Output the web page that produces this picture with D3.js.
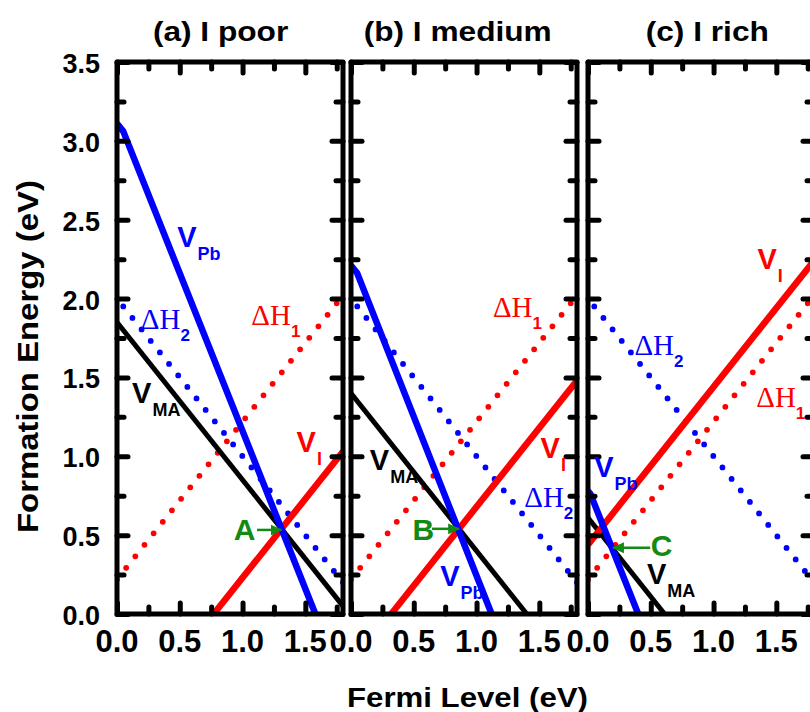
<!DOCTYPE html>
<html>
<head>
<meta charset="utf-8">
<script src="https://cdn.jsdelivr.net/npm/d3@7"></script>
<style>
body { margin: 0; background: #fff; }
svg { display: block; overflow: hidden; }
text { font-family: "Liberation Sans", Arial, sans-serif; font-weight: bold; }
</style>
</head>
<body>
<div id="chart"></div>
<script>
// Data (Fermi level in eV, formation energy in eV)
var panelNames = ["(a) I poor", "(b) I medium", "(c) I rich"];
var fermiDomain = [0, 1.8];
var energyDomain = [0, 3.5];
var xTickValues = [0, 0.5, 1.0, 1.5];
var yTickValues = [0, 0.5, 1.0, 1.5, 2.0, 2.5, 3.0, 3.5];

// V_Pb per panel (kink near 0.05)
var vPb = [
  [[0, 3.11], [0.05, 3.06], [1.58, 0]],
  [[0, 2.21], [0.05, 2.16], [1.12, 0]],
  [[0, 0.78], [0.02, 0.76], [0.40, 0]]
];
var vMA = [
  [[0, 1.85], [1.8, 0.05]],
  [[0, 1.40], [1.40, 0]],
  [[0, 0.61], [0.61, 0]]
];
var vI = [
  [[0.77, 0], [1.8, 1.03]],
  [[0.32, 0], [1.8, 1.48]],
  [[0, 0.44], [1.8, 2.24]]
];
// stability limits, same in every panel
var dH1 = [[0, 0.22], [1.8, 2.02]];
var dH2 = [[1.8, 0.2], [0, 2.0]];

// annotations: [E, F] of label start (baseline)
var labelPos = [
  {vPb: [0.48, 2.33], vMA: [0.12, 1.34], vI: [1.43, 1.03], dH1: [1.07, 1.83], dH2: [0.19, 1.81],
   mark: "A", markAt: [0.93, 0.47], arrow: [[1.115, 0.533], [1.31, 0.533]]},
  {vPb: [0.71, 0.18], vMA: [0.15, 0.91], vI: [1.51, 0.99], dH1: [1.13, 1.88], dH2: [1.38, 0.68],
   mark: "B", markAt: [0.49, 0.47], arrow: [[0.645, 0.54], [0.86, 0.54]]},
  {vPb: [0.05, 0.87], vMA: [0.47, 0.19], vI: [1.35, 2.19], dH1: [1.34, 1.31], dH2: [0.37, 1.64],
   mark: "C", markAt: [0.50, 0.37], arrow: [[0.495, 0.42], [0.20, 0.42]]}
];
var titleCenter = [0.825, 0.85, 0.95];

// Layout
var width = 810, height = 712;
var plotTop = 62, plotBottom = 614;
var panelLeft = [117, 351, 588];
var panelWidth = 226;
var blue = "#0000ff", red = "#ff0000", green = "#138a13";

var svg = d3.select("#chart").append("svg")
  .attr("width", width)
  .attr("height", height);

var defs = svg.append("defs");
defs.append("marker")
  .attr("id", "arrowHead")
  .attr("markerUnits", "userSpaceOnUse")
  .attr("markerWidth", 12).attr("markerHeight", 12)
  .attr("refX", 9).attr("refY", 5)
  .attr("orient", "auto")
  .attr("viewBox", "0 0 10 10")
  .append("path")
  .attr("d", "M0,0.5 L10,5 L0,9.5 Z")
  .attr("fill", green);

var y = d3.scaleLinear().domain(energyDomain).range([plotBottom, plotTop]);

panelNames.forEach(function(name, p) {
  var left = panelLeft[p];
  var x = d3.scaleLinear().domain(fermiDomain).range([left, left + panelWidth]);
  var g = svg.append("g").attr("class", "panel");

  defs.append("clipPath").attr("id", "clip" + p)
    .append("rect")
    .attr("x", left).attr("y", plotTop)
    .attr("width", panelWidth).attr("height", plotBottom - plotTop);

  var line = d3.line().x(function(d) { return x(d[0]); }).y(function(d) { return y(d[1]); });
  var plot = g.append("g").attr("clip-path", "url(#clip" + p + ")");

  // dotted limits
  [[dH1, red], [dH2, blue]].forEach(function(s) {
    plot.append("path")
      .attr("d", line(s[0]))
      .attr("fill", "none")
      .attr("stroke", s[1])
      .attr("stroke-width", 5.8)
      .attr("stroke-linecap", "round")
      .attr("stroke-dasharray", "0,14.7");
  });
  plot.append("path").attr("d", line(vMA[p])).attr("fill", "none")
    .attr("stroke", "#000").attr("stroke-width", 5);
  plot.append("path").attr("d", line(vI[p])).attr("fill", "none")
    .attr("stroke", red).attr("stroke-width", 6.5);
  plot.append("path").attr("d", line(vPb[p])).attr("fill", "none")
    .attr("stroke", blue).attr("stroke-width", 6.5).attr("stroke-linejoin", "round");

  // axes: inward ticks on all four sides
  var minorX = d3.range(0, 1.8, 0.25).filter(function(v) { return v % 0.5 !== 0; });
  var minorY = d3.range(0.25, 3.5, 0.5);
  function styleAxis(sel) {
    sel.select(".domain").remove();
    sel.selectAll(".tick line").attr("stroke", "#000").attr("stroke-width", 5).attr("stroke-linecap", "round");
  }
  var majorXTicks = d3.range(0, 1.8, 0.5);
  g.append("g").attr("transform", "translate(0," + plotBottom + ")")
    .call(d3.axisBottom(x).tickValues(majorXTicks).tickSize(-11).tickFormat(""))
    .call(styleAxis);
  g.append("g").attr("transform", "translate(0," + plotBottom + ")")
    .call(d3.axisBottom(x).tickValues(minorX).tickSize(-7).tickFormat(""))
    .call(styleAxis);
  g.append("g").attr("transform", "translate(0," + plotTop + ")")
    .call(d3.axisTop(x).tickValues(majorXTicks).tickSize(-11).tickFormat(""))
    .call(styleAxis);
  g.append("g").attr("transform", "translate(0," + plotTop + ")")
    .call(d3.axisTop(x).tickValues(minorX).tickSize(-7).tickFormat(""))
    .call(styleAxis);
  g.append("g").attr("transform", "translate(" + left + ",0)")
    .call(d3.axisLeft(y).tickValues(yTickValues).tickSize(-11).tickFormat(""))
    .call(styleAxis);
  g.append("g").attr("transform", "translate(" + left + ",0)")
    .call(d3.axisLeft(y).tickValues(minorY).tickSize(-7).tickFormat(""))
    .call(styleAxis);
  g.append("g").attr("transform", "translate(" + (left + panelWidth) + ",0)")
    .call(d3.axisRight(y).tickValues(yTickValues).tickSize(-11).tickFormat(""))
    .call(styleAxis);
  g.append("g").attr("transform", "translate(" + (left + panelWidth) + ",0)")
    .call(d3.axisRight(y).tickValues(minorY).tickSize(-7).tickFormat(""))
    .call(styleAxis);

  // frame
  g.append("rect")
    .attr("x", left).attr("y", plotTop)
    .attr("width", panelWidth).attr("height", plotBottom - plotTop)
    .attr("fill", "none").attr("stroke", "#000").attr("stroke-width", 5)
    .attr("stroke-linejoin", "round");

  // x tick labels
  g.selectAll(".xlab").data(xTickValues).enter().append("text")
    .attr("x", function(d) { return x(d); })
    .attr("y", 652)
    .attr("text-anchor", "middle")
    .style("font-size", "31px")
    .text(function(d) { return d3.format(".1f")(d); });

  if (p === 0) {
    g.selectAll(".ylab").data(yTickValues).enter().append("text")
      .attr("x", left - 17)
      .attr("y", function(d) { return y(d) + 11; })
      .attr("text-anchor", "end")
      .style("font-size", "27px")
      .text(function(d) { return d3.format(".1f")(d); });
  }

  // panel title
  var title = g.append("text")
    .attr("x", x(titleCenter[p]))
    .attr("y", 41)
    .attr("text-anchor", "middle")
    .style("font-size", "28px")
    .text(name);
  title.attr("textLength", title.node().getComputedTextLength() * 1.13)
    .attr("lengthAdjust", "spacingAndGlyphs");

  // defect labels
  var lp = labelPos[p];
  function vLabel(pos, sub, color) {
    var t = g.append("text").attr("x", x(pos[0])).attr("y", y(pos[1])).attr("fill", color);
    t.append("tspan").style("font-size", "29px").text("V");
    t.append("tspan").attr("dy", 13).attr("dx", 1).style("font-size", "18px").text(sub);
  }
  function hLabel(pos, sub, color) {
    var t = g.append("text").attr("x", x(pos[0])).attr("y", y(pos[1])).attr("fill", color);
    t.append("tspan").style("font-family", "'Liberation Serif','Times New Roman',serif")
      .style("font-weight", "normal").style("font-size", "29px").text("\u0394H");
    t.append("tspan").attr("dy", 12).style("font-size", "17px").text(sub);
  }
  vLabel(lp.vPb, "Pb", blue);
  vLabel(lp.vMA, "MA", "#000");
  vLabel(lp.vI, "I", red);
  hLabel(lp.dH1, "1", red);
  hLabel(lp.dH2, "2", blue);

  g.append("text")
    .attr("x", x(lp.markAt[0])).attr("y", y(lp.markAt[1]))
    .attr("fill", green).style("font-size", "30px")
    .text(lp.mark);
  g.append("path")
    .attr("d", line(lp.arrow))
    .attr("stroke", green).attr("stroke-width", 2.5).attr("fill", "none")
    .attr("marker-end", "url(#arrowHead)");
});

// axis titles
var xt = svg.append("text")
  .attr("x", 467.5).attr("y", 707)
  .attr("text-anchor", "middle")
  .style("font-size", "28px")
  .text("Fermi Level (eV)");
xt.attr("textLength", 241).attr("lengthAdjust", "spacingAndGlyphs");

var yt = svg.append("text")
  .attr("transform", "translate(38,356.5) rotate(-90)")
  .attr("text-anchor", "middle")
  .style("font-size", "29px")
  .text("Formation Energy (eV)");
yt.attr("textLength", 353).attr("lengthAdjust", "spacingAndGlyphs");
</script>
</body>
</html>
